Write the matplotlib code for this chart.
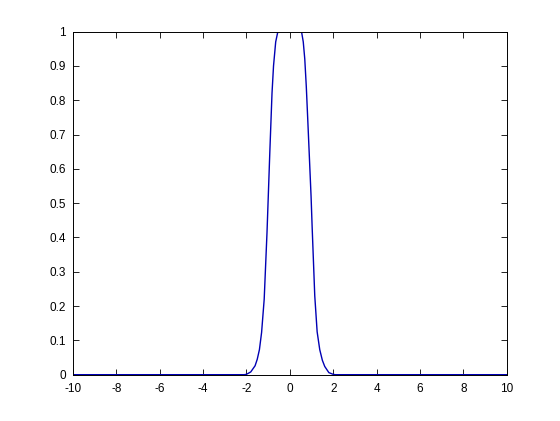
import matplotlib
matplotlib.use("Agg")
import matplotlib.pyplot as plt
from matplotlib.ticker import FixedLocator, FixedFormatter

x_vals = [-10, -2.1, -2.0, -1.8, -1.6, -1.5, -1.4, -1.3, -1.18, -1.05, -1.0, -0.92,
          -0.82, -0.75, -0.65, -0.55, -0.4, 0.0, 0.4, 0.54, 0.62, 0.69, 0.76, 0.83,
          0.98, 1.03, 1.15, 1.26, 1.38, 1.5, 1.61, 1.8, 2.0, 2.1, 10]
y_vals = [0.0, 0.0, 0.001, 0.008, 0.026, 0.045, 0.073, 0.123, 0.22, 0.415, 0.505, 0.65,
          0.82, 0.9, 0.97, 1.0, 1.04, 1.08, 1.04, 1.0, 0.97, 0.92, 0.84, 0.74,
          0.52, 0.43, 0.23, 0.125, 0.073, 0.042, 0.024, 0.006, 0.001, 0.0, 0.0]

x_ticks = [-10, -8, -6, -4, -2, 0, 2, 4, 6, 8, 10]
y_ticks = [0, 0.1, 0.2, 0.3, 0.4, 0.5, 0.6, 0.7, 0.8, 0.9, 1]
y_tick_labels = ["0", "0.1", "0.2", "0.3", "0.4", "0.5", "0.6", "0.7", "0.8", "0.9", "1"]

plt.rcParams['font.family'] = ['Liberation Sans', 'DejaVu Sans']
fig = plt.figure(figsize=(5.6, 4.21), dpi=100)
ax = fig.add_axes([0.13, 0.11, 0.775, 0.815])
ax.plot(x_vals, y_vals, color='#0000b4', linewidth=1.0)
ax.set_xlim(-10, 10)
ax.set_ylim(0, 1)
ax.xaxis.set_major_locator(FixedLocator(x_ticks))
ax.xaxis.set_major_formatter(FixedFormatter([str(t) for t in x_ticks]))
ax.yaxis.set_major_locator(FixedLocator(y_ticks))
ax.yaxis.set_major_formatter(FixedFormatter(y_tick_labels))
ax.tick_params(direction='in', top=True, right=True, length=4, width=0.6,
               labelsize=8.5)
ax.tick_params(axis='x', pad=6)
ax.tick_params(axis='y', pad=5)
for s in ax.spines.values():
    s.set_linewidth(0.7)
fig.savefig("out.png", dpi=100)
